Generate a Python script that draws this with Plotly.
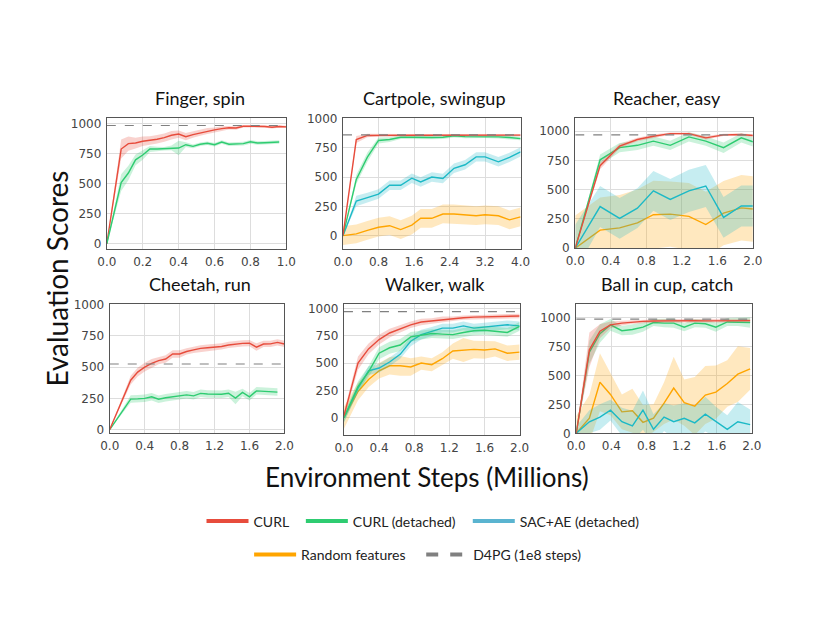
import plotly.graph_objects as go

# ---- data (x in millions of env steps) ----
FINGER_X = [0, 0.08, 0.12, 0.16, 0.2, 0.24, 0.28, 0.32, 0.36, 0.4, 0.44, 0.48, 0.52,
            0.56, 0.6, 0.64, 0.68, 0.72, 0.76, 0.8, 0.84, 0.88, 0.92, 0.96, 1.0]
FINGER_CURL = [0, 790, 835, 840, 855, 862, 872, 885, 905, 915, 893, 910, 925,
               940, 950, 960, 968, 965, 980, 980, 980, 978, 972, 978, 975]
FINGER_CURL_SD = [0, 80, 60, 45, 40, 35, 35, 35, 35, 30, 30, 25, 25,
                  25, 20, 20, 15, 15, 10, 10, 10, 10, 10, 10, 10]
FINGER_DET = [0, 510, 590, 700, 740, 790, 790, 792, 800, 798, 826, 812, 830,
              838, 826, 848, 830, 833, 835, 850, 840, 842, 845, 848]
FINGER_DET_SD = [0, 70, 60, 45, 40, 25, 20, 15, 20, 60, 20, 15, 15,
                 15, 15, 15, 15, 15, 15, 15, 15, 15, 15, 15]

CART_X = [0, 0.3, 0.55, 0.8, 1.05, 1.3, 1.55, 1.75, 2.0, 2.25, 2.5, 2.75, 3.0,
          3.2, 3.5, 3.75, 4.0]
CART_CURL = [0, 820, 855, 857, 857, 857, 857, 857, 857, 857, 857, 855, 857,
             858, 858, 858, 858]
CART_CURL_SD = [0, 30, 15, 10, 10, 10, 10, 10, 10, 10, 10, 10, 10, 10, 10, 10, 10]
CART_DET = [0, 480, 670, 812, 820, 840, 840, 838, 838, 840, 852, 845, 845,
            848, 843, 838, 828]
CART_DET_SD = [0, 40, 40, 25, 20, 15, 15, 15, 15, 15, 15, 15, 15, 15, 15, 15, 15]
CART_SAC = [0, 295, 325, 355, 430, 430, 490, 458, 500, 488, 575, 605, 672,
            672, 630, 668, 715]
CART_SAC_SD = [0, 45, 40, 40, 40, 40, 40, 40, 40, 40, 40, 40, 40, 40, 40, 40, 40]
CART_RAND = [0, 15, 45, 72, 85, 52, 90, 148, 148, 185, 185, 175, 170,
             178, 170, 135, 160]
CART_RAND_SD = [80, 80, 80, 80, 80, 80, 80, 80, 80, 80, 80, 80, 80, 80, 80, 80, 80]

REACH_X = [0, 0.28, 0.5, 0.7, 0.88, 1.07, 1.28, 1.47, 1.67, 1.87, 2.0]
REACH_CURL = [0, 706, 874, 930, 958, 980, 980, 944, 969, 972, 964]
REACH_CURL_SD = [0, 30, 20, 15, 15, 10, 10, 15, 10, 10, 10]
REACH_DET = [0, 756, 860, 880, 916, 880, 952, 916, 860, 944, 910]
REACH_DET_SD = [0, 45, 40, 40, 40, 40, 40, 40, 45, 40, 40]
REACH_SAC = [0, 356, 255, 342, 490, 417, 490, 532, 263, 361, 361]
REACH_SAC_SD = [200, 175, 175, 170, 170, 175, 180, 180, 175, 175, 175]
REACH_RAND = [0, 154, 174, 216, 286, 291, 272, 202, 300, 345, 335]
REACH_RAND_SD = [280, 280, 280, 285, 290, 280, 285, 280, 275, 280, 280]

CHEETAH_X = [0, 0.24, 0.32, 0.4, 0.48, 0.56, 0.64, 0.72, 0.8, 0.88, 0.96, 1.04,
             1.12, 1.2, 1.28, 1.36, 1.44, 1.52, 1.6, 1.68, 1.76, 1.84, 1.92, 2.0]
CHEETAH_CURL = [0, 395, 460, 500, 530, 552, 565, 605, 605, 625, 638, 650,
                655, 658, 665, 677, 685, 690, 692, 660, 685, 686, 698, 685]
CHEETAH_CURL_SD = [0, 35, 35, 35, 35, 30, 30, 30, 30, 25, 25, 25,
                   25, 25, 25, 25, 25, 25, 25, 30, 25, 25, 25, 25]
CHEETAH_DET = [0, 244, 246, 250, 263, 243, 255, 263, 272, 278, 270, 290,
               285, 283, 283, 291, 252, 297, 262, 310, 305, 302, 300]
CHEETAH_DET_SD = [0, 30, 30, 30, 30, 30, 30, 30, 30, 30, 30, 30,
                  30, 30, 30, 30, 50, 30, 30, 30, 30, 30, 30]

WALKER_X = [0, 0.16, 0.28, 0.4, 0.52, 0.64, 0.76, 0.88, 1.0, 1.12, 1.24, 1.36,
            1.48, 1.6, 1.72, 1.86, 2.0]
WALKER_CURL = [20, 500, 630, 715, 775, 815, 850, 875, 885, 900, 905, 915,
               920, 922, 925, 928, 930]
WALKER_CURL_SD = [30, 60, 50, 45, 40, 35, 30, 30, 25, 25, 20, 20, 20, 20, 20, 20, 20]
WALKER_DET = [0, 285, 420, 590, 640, 665, 740, 755, 770, 765, 760, 780,
              795, 800, 790, 780, 835]
WALKER_DET_SD = [40, 50, 50, 55, 55, 55, 45, 40, 40, 40, 40, 40, 40, 40, 40, 40, 40]
WALKER_SAC = [0, 270, 430, 455, 510, 580, 700, 760, 790, 820, 820, 840,
              820, 830, 840, 850, 840]
WALKER_SAC_SD = [40, 40, 40, 40, 40, 40, 45, 45, 40, 40, 40, 40, 40, 40, 40, 40, 40]
WALKER_RAND = [0, 240, 350, 430, 475, 475, 465, 500, 485, 540, 610, 620,
               625, 620, 630, 590, 600]
WALKER_RAND_SD = [100, 80, 70, 70, 80, 90, 80, 60, 60, 60, 70, 110, 80, 80, 70, 70, 70]

BALL_X = [0, 0.15, 0.27, 0.39, 0.52, 0.64, 0.76, 0.88, 1.0, 1.11, 1.23, 1.35,
          1.47, 1.59, 1.72, 1.84, 1.98]
BALL_CURL = [0, 720, 880, 935, 950, 960, 965, 968, 970, 970, 970, 972,
             970, 970, 972, 972, 972]
BALL_CURL_SD = [0, 150, 60, 30, 20, 15, 15, 15, 15, 15, 15, 15, 15, 15, 15, 15, 15]
BALL_DET = [0, 700, 860, 935, 885, 895, 915, 955, 950, 950, 915, 950,
            945, 915, 960, 960, 955]
BALL_DET_SD = [0, 100, 80, 50, 40, 45, 40, 30, 35, 40, 35, 35, 35, 40, 35, 35, 45]
BALL_SAC = [0, 100, 140, 200, 100, 65, 200, 35, 140, 100, 130, 90,
            165, 100, 35, 100, 75]
BALL_SAC_SD = [60, 100, 110, 90, 120, 130, 170, 130, 120, 140, 130, 140,
               150, 130, 120, 170, 130]
BALL_RAND = [0, 130, 440, 335, 185, 195, 95, 130, 260, 390, 265, 235,
             330, 355, 430, 510, 555]
BALL_RAND_SD = [150, 200, 250, 180, 150, 190, 150, 120, 180, 270, 200, 250,
                250, 230, 200, 240, 180]

D4PG = [986, 860, 970, 525, 970, 985]

TITLES = ["Finger, spin", "Cartpole, swingup", "Reacher, easy",
          "Cheetah, run", "Walker, walk", "Ball in cup, catch"]
X_MAX = [1.0, 4.0, 2.0, 2.0, 2.0, 2.0]
X_DTICK = [0.2, 0.8, 0.4, 0.4, 0.4, 0.4]
Y_RANGES = [[-45, 1050], [-115, 1005], [0, 1115], [-30, 1005], [-160, 1040], [0, 1115]]

NAMES = ["CURL", "CURL (detached)", "SAC+AE (detached)", "Random features"]
COLORS = {"CURL": "#e74c3c", "CURL (detached)": "#2ecc71",
          "SAC+AE (detached)": "#1cb9c6", "Random features": "#ffa500"}
FILLS = {"CURL": "rgba(231,76,60,0.25)", "CURL (detached)": "rgba(46,204,113,0.25)",
         "SAC+AE (detached)": "rgba(28,185,198,0.25)", "Random features": "rgba(255,165,0,0.25)"}
LEGEND_COLORS = ["#e74c3c", "#2ecc71", "#5ab4d0", "#ffa500"]
# a little extra room after some legend labels, as in the reference
LEGEND_PAD = {"CURL": 2, "CURL (detached)": 2, "SAC+AE (detached)": 0, "Random features": 3}

# panel -> list of (name, x, mean, sd)
PANELS = [
    [("CURL", FINGER_X, FINGER_CURL, FINGER_CURL_SD),
     ("CURL (detached)", FINGER_X[:len(FINGER_DET)], FINGER_DET, FINGER_DET_SD)],
    [("Random features", CART_X, CART_RAND, CART_RAND_SD),
     ("SAC+AE (detached)", CART_X, CART_SAC, CART_SAC_SD),
     ("CURL (detached)", CART_X, CART_DET, CART_DET_SD),
     ("CURL", CART_X, CART_CURL, CART_CURL_SD)],
    [("Random features", REACH_X, REACH_RAND, REACH_RAND_SD),
     ("SAC+AE (detached)", REACH_X, REACH_SAC, REACH_SAC_SD),
     ("CURL (detached)", REACH_X, REACH_DET, REACH_DET_SD),
     ("CURL", REACH_X, REACH_CURL, REACH_CURL_SD)],
    [("CURL (detached)", CHEETAH_X[:len(CHEETAH_DET)], CHEETAH_DET, CHEETAH_DET_SD),
     ("CURL", CHEETAH_X, CHEETAH_CURL, CHEETAH_CURL_SD)],
    [("Random features", WALKER_X, WALKER_RAND, WALKER_RAND_SD),
     ("SAC+AE (detached)", WALKER_X, WALKER_SAC, WALKER_SAC_SD),
     ("CURL (detached)", WALKER_X, WALKER_DET, WALKER_DET_SD),
     ("CURL", WALKER_X, WALKER_CURL, WALKER_CURL_SD)],
    [("Random features", BALL_X, BALL_RAND, BALL_RAND_SD),
     ("SAC+AE (detached)", BALL_X, BALL_SAC, BALL_SAC_SD),
     ("CURL (detached)", BALL_X, BALL_DET, BALL_DET_SD),
     ("CURL", BALL_X, BALL_CURL, BALL_CURL_SD)],
]

W, H = 830, 642
OFF = 8  # the page body margin pushes the figure right/down by this much


def px(xp):
    return (xp - OFF) / W


def py(yp):
    return 1 - (yp - OFF) / H


# plot boxes in pixels: left, right, top, bottom
BOXES = [(99, 283, 114, 248), (341, 523, 114, 248), (579, 761, 114, 247),
         (102, 281, 304, 436), (342, 522, 304, 438), (580, 760, 304, 436)]

TXT = "Lato"
TICK_FONT = dict(family="DejaVu Sans", size=12, color="#444444")

fig = go.Figure()
layout = {}
annotations = []

for i, panel in enumerate(PANELS):
    n = i + 1
    xa = "x" if n == 1 else f"x{n}"
    ya = "y" if n == 1 else f"y{n}"
    for name, xs, ys, sd in panel:
        up = [m + s for m, s in zip(ys, sd)]
        lo = [m - s for m, s in zip(ys, sd)]
        fig.add_trace(go.Scatter(
            x=list(xs) + list(xs)[::-1], y=up + lo[::-1],
            fill="toself", fillcolor=FILLS[name], line=dict(width=0),
            mode="lines", hoverinfo="skip", showlegend=False, xaxis=xa, yaxis=ya))
        fig.add_trace(go.Scatter(
            x=xs, y=ys, mode="lines", name=name,
            line=dict(color=COLORS[name], width=1.4),
            showlegend=False, xaxis=xa, yaxis=ya))
    # D4PG reference level
    fig.add_trace(go.Scatter(
        x=[0, X_MAX[i]], y=[D4PG[i], D4PG[i]], mode="lines",
        line=dict(color="#808080", width=1.2, dash="dash"),
        showlegend=False, xaxis=xa, yaxis=ya))

    l, r, t, b = BOXES[i]
    key = "" if n == 1 else str(n)
    layout["xaxis" + key] = dict(
        domain=[px(l), px(r)], anchor=ya, range=[0, X_MAX[i]], dtick=X_DTICK[i],
        tick0=0, tickformat=".1f", showgrid=True, gridcolor="#dddddd", gridwidth=1,
        zeroline=False, showline=True, mirror=True, linecolor="#555555", linewidth=1.2,
        ticks="", tickfont=TICK_FONT, ticklabelstandoff=1)
    layout["yaxis" + key] = dict(
        domain=[py(b), py(t)], anchor=xa, range=Y_RANGES[i], dtick=250,
        tick0=0, showgrid=True, gridcolor="#dddddd", gridwidth=1,
        zeroline=False, showline=True, mirror=True, linecolor="#555555", linewidth=1.2,
        ticks="", tickfont=TICK_FONT, ticklabelstandoff=2)
    annotations.append(dict(
        text=TITLES[i], x=px((l + r) / 2 + 3), y=py(t - 20), xref="paper", yref="paper",
        xanchor="center", yanchor="middle", showarrow=False,
        font=dict(family=TXT, size=18, color="#111111")))

# legend-only entries
for name, col in zip(NAMES, LEGEND_COLORS):
    fig.add_trace(go.Scatter(
        x=[None], y=[None], mode="lines", name=name + "\u00a0" * LEGEND_PAD[name],
        line=dict(color=col, width=4),
        legend="legend" if name != "Random features" else "legend2"))
fig.add_trace(go.Scatter(
    x=[None], y=[None], mode="lines", name="D4PG (1e8 steps)",
    line=dict(color="#808080", width=4, dash="dash"), legend="legend2"))

annotations.append(dict(
    text="Evaluation Scores", x=px(47), y=py(278), xref="paper", yref="paper",
    textangle=-90, showarrow=False, xanchor="center", yanchor="middle",
    font=dict(family=TXT, size=28, color="#111111")))
annotations.append(dict(
    text="Environment Steps (Millions)", x=px(427), y=py(481), xref="paper",
    yref="paper", showarrow=False, xanchor="center", yanchor="middle",
    font=dict(family=TXT, size=26, color="#111111")))

leg_font = dict(family=TXT, size=14, color="#222222")
fig.update_layout(
    width=W, height=H, margin=dict(l=0, r=0, t=0, b=0),
    paper_bgcolor="white", plot_bgcolor="white",
    annotations=annotations,
    legend=dict(orientation="h", x=px(423), xanchor="center", y=py(526),
                yanchor="middle", font=leg_font, itemwidth=42,
                bgcolor="rgba(0,0,0,0)"),
    legend2=dict(orientation="h", x=px(418), xanchor="center", y=py(560),
                 yanchor="middle", font=leg_font, itemwidth=42,
                 bgcolor="rgba(0,0,0,0)"),
    **layout,
)

fig.write_html("out.html")
